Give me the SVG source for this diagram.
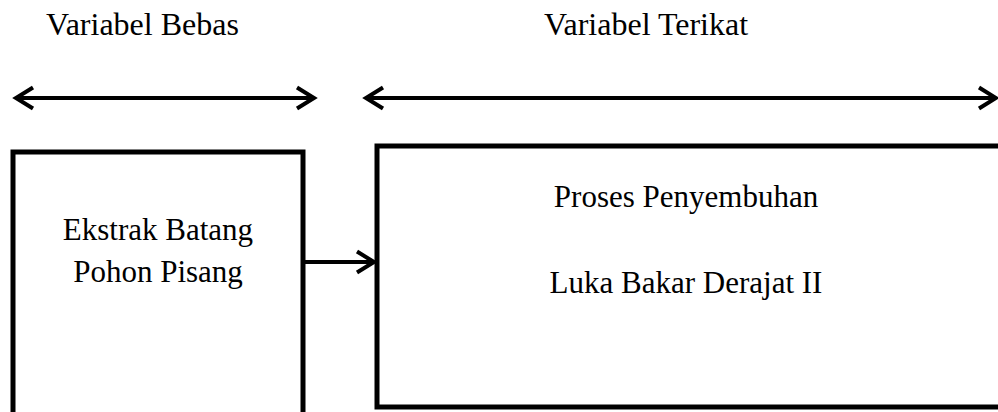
<svg xmlns="http://www.w3.org/2000/svg" width="998" height="412" viewBox="0 0 998 412">
<style>
text{font-family:"Liberation Serif","Times New Roman",serif;fill:#000;text-anchor:middle}
.h{font-size:32px}
.b{font-size:31px}
.box{fill:#fff;stroke:#000;stroke-width:5}
.ln{stroke:#000;stroke-width:4;fill:none}
</style>
<defs>
<marker id="ah" markerUnits="userSpaceOnUse" markerWidth="30" markerHeight="30" viewBox="-24 -15 30 30" refX="0" refY="0" orient="auto-start-reverse" overflow="visible">
<path d="M-17,-10.5 L0,0 L-17,10.5" fill="none" stroke="#000" stroke-width="4" stroke-linejoin="miter"/>
</marker>
</defs>
<rect width="998" height="412" fill="#fff"/>
<g id="label-bebas"><text class="h" x="142.5" y="35">Variabel Bebas</text></g>
<g id="label-terikat"><text class="h" x="646" y="35">Variabel Terikat</text></g>
<g id="node-bebas">
<rect class="box" x="13" y="152" width="290" height="270"/>
<text class="b" x="158" y="240">Ekstrak Batang</text>
<text class="b" x="158" y="282">Pohon Pisang</text>
</g>
<g id="node-terikat">
<rect class="box" x="377" y="146" width="630" height="261"/>
<text class="b" x="686" y="207">Proses Penyembuhan</text>
<text class="b" x="686" y="293">Luka Bakar Derajat II</text>
</g>
<g id="connectors">
<line class="ln" x1="16" y1="98" x2="314" y2="98" marker-start="url(#ah)" marker-end="url(#ah)"/>
<line class="ln" x1="366" y1="98" x2="996" y2="98" marker-start="url(#ah)" marker-end="url(#ah)"/>
<line class="ln" x1="303" y1="262" x2="374" y2="262" marker-end="url(#ah)"/>
</g>
</svg>
